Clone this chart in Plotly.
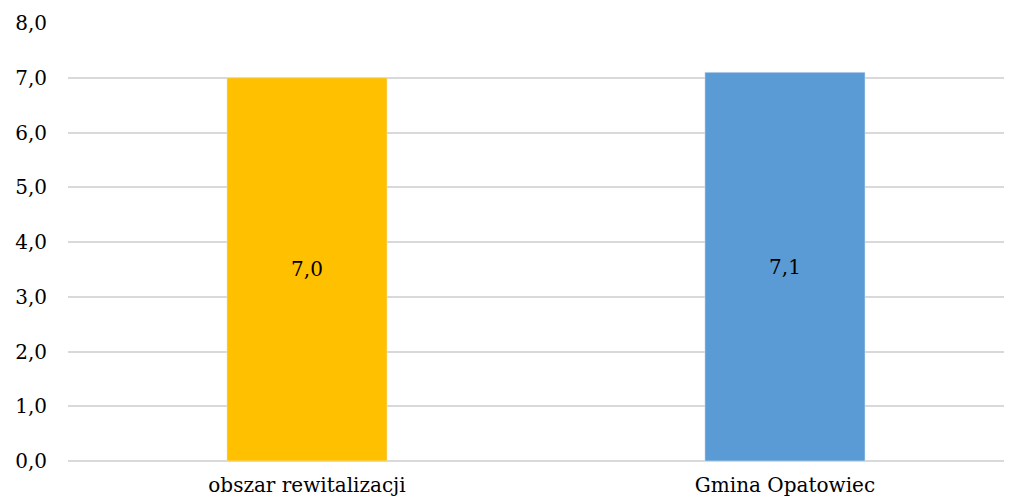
import plotly.graph_objects as go

categories = ["obszar rewitalizacji", "Gmina Opatowiec"]
values = [7.0, 7.1]
colors = ["#FFC000", "#5B9BD5"]
labels = ["7,0", "7,1"]

FONT = "DejaVu Serif"

fig = go.Figure()
fig.add_trace(go.Bar(
    x=categories, y=values, marker_color=colors, width=0.335,
    text=labels, textposition="inside", insidetextanchor="middle",
    textfont=dict(family=FONT, size=20, color="black"),
    textangle=0,
))
fig.update_layout(
    width=1013, height=488,
    margin=dict(l=60, r=0, t=15, b=35),
    plot_bgcolor="white", paper_bgcolor="white",
    separators=",.",
    showlegend=False,
    font=dict(family=FONT, size=20, color="black"),
)
fig.update_yaxes(
    range=[0, 8], dtick=1, tickformat=".1f",
    showgrid=True, gridcolor="#d9d9d9", gridwidth=1.5,
    zeroline=True, zerolinecolor="#d9d9d9", zerolinewidth=1.5,
    showline=False, ticks="", ticklabelstandoff=20,
    tickfont=dict(family=FONT, size=20, color="black"),
)
fig.update_xaxes(
    range=[-0.5, 1.475 + 9 / 478], showgrid=False, showline=False, ticks="",
    ticklabelstandoff=10,
    tickfont=dict(family=FONT, size=20, color="black"),
)
fig.write_html("out.html")
